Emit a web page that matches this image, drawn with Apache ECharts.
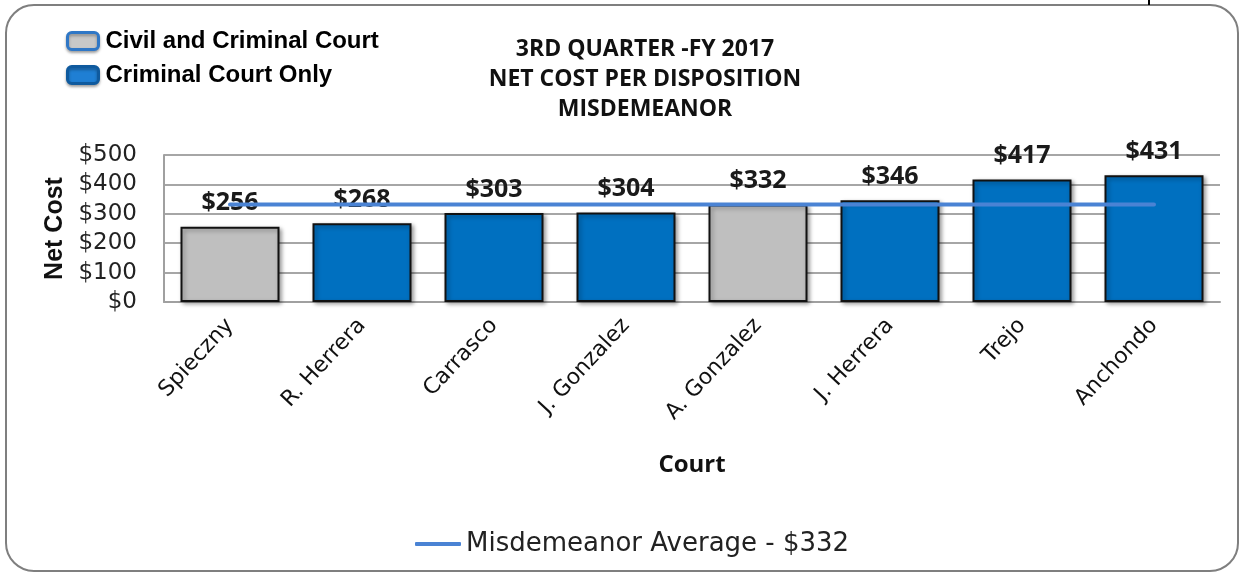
<!DOCTYPE html>
<html>
<head>
<meta charset="utf-8">
<title>Net Cost per Disposition - Misdemeanor</title>
<script src="https://cdn.jsdelivr.net/npm/echarts@6/dist/echarts.min.js"></script>
<style>
  html, body { margin: 0; padding: 0; background: #fff; }
  #chartmain { width: 1243px; height: 575px; }
</style>
</head>
<body>
<div id="chartmain"></div>
<script>
    // data
    var courts = ['Spieczny', 'R. Herrera', 'Carrasco', 'J. Gonzalez', 'A. Gonzalez', 'J. Herrera', 'Trejo', 'Anchondo'];
    var netCost = [256, 268, 303, 304, 332, 346, 417, 431];
    // true = civil and criminal court, false = criminal court only
    var civilAndCriminal = [true, false, false, false, true, false, false, false];
    var average = 332;
    var yTicks = [0, 100, 200, 300, 400, 500];

    var nameCivil = 'Civil and Criminal Court';
    var nameCrim = 'Criminal Court Only';
    var nameAvg = 'Misdemeanor Average - $' + average;

    var civilData = netCost.map(function (v, i) { return civilAndCriminal[i] ? v : '-'; });
    var crimData = netCost.map(function (v, i) { return civilAndCriminal[i] ? '-' : v; });
    var avgData = courts.map(function () { return average; });

    var myChart = echarts.init(document.getElementById('chartmain'));

    var barLabel = {
        show: true,
        position: 'top',
        distance: 11,
        formatter: '${c}',
        fontFamily: 'Open Sans',
        fontWeight: 'bold',
        fontSize: 25,
        color: '#1a1a1a'
    };

    var barShadow = {
        borderColor: '#111',
        borderWidth: 2,
        shadowColor: 'rgba(0,0,0,0.35)',
        shadowBlur: 4,
        shadowOffsetX: 2,
        shadowOffsetY: 2
    };

    var option = {
        backgroundColor: '#fff',
        animation: false,
        title: {
            text: '3RD QUARTER -FY 2017\nNET COST PER DISPOSITION\nMISDEMEANOR',
            left: 640,
            top: 29,
            textAlign: 'center',
            textStyle: {
                fontFamily: 'Open Sans',
                fontWeight: 'bold',
                fontSize: 23,
                lineHeight: 30,
                color: '#111'
            }
        },
        legend: [
            {
                orient: 'vertical',
                left: 61,
                top: 24,
                itemGap: 10,
                itemWidth: 31,
                itemHeight: 17,
                icon: 'roundRect',
                textStyle: {
                    fontFamily: 'Liberation Sans',
                    fontWeight: 'bold',
                    fontSize: 24,
                    color: '#000',
                    padding: [0, 0, 0, 2]
                },
                data: [
                    { name: nameCivil, itemStyle: { color: '#c8c8c8', borderColor: '#2f77c6', borderWidth: 3, shadowColor: 'rgba(0,0,0,0.3)', shadowBlur: 3, shadowOffsetY: 2 } },
                    { name: nameCrim, itemStyle: { color: '#1f7fd4', borderColor: '#0f5a9e', borderWidth: 3, shadowColor: 'rgba(0,0,0,0.3)', shadowBlur: 3, shadowOffsetY: 2 } }
                ]
            },
            {
                left: 410,
                top: 526,
                itemWidth: 46,
                itemHeight: 4,
                icon: 'roundRect',
                textStyle: {
                    fontFamily: 'DejaVu Sans',
                    fontSize: 26,
                    color: '#222'
                },
                data: [nameAvg]
            }
        ],
        grid: {
            left: 164,
            right: 23,
            top: 155,
            bottom: 273
        },
        xAxis: {
            type: 'category',
            data: courts,
            name: 'Court',
            nameLocation: 'middle',
            nameGap: 151,
            nameTextStyle: {
                fontFamily: 'Open Sans',
                fontWeight: 'bold',
                fontSize: 24,
                color: '#111'
            },
            axisLine: { lineStyle: { color: '#a0a0a0', width: 2 } },
            axisTick: { show: false },
            axisLabel: {
                rotate: 47,
                margin: 20,
                fontFamily: 'DejaVu Sans',
                fontSize: 22,
                color: '#111'
            }
        },
        yAxis: {
            type: 'value',
            min: yTicks[0],
            max: yTicks[yTicks.length - 1],
            interval: 100,
            name: 'Net Cost',
            nameLocation: 'middle',
            nameGap: 94,
            nameRotate: 90,
            nameTextStyle: {
                fontFamily: 'Liberation Sans',
                fontWeight: 'bold',
                fontSize: 25,
                color: '#111'
            },
            axisLine: { show: true, lineStyle: { color: '#a0a0a0', width: 2 } },
            axisTick: { show: false },
            axisLabel: {
                margin: 27,
                formatter: '${value}',
                fontFamily: 'DejaVu Sans',
                fontSize: 23,
                color: '#222'
            },
            splitLine: { lineStyle: { color: '#a6a6a6', width: 2 } }
        },
        series: [
            {
                name: nameCivil,
                type: 'bar',
                stack: 'court',
                barWidth: '75%',
                data: civilData,
                itemStyle: Object.assign({ color: '#bfbfbf' }, barShadow),
                label: barLabel
            },
            {
                name: nameCrim,
                type: 'bar',
                stack: 'court',
                barWidth: '75%',
                data: crimData,
                itemStyle: Object.assign({ color: '#0070c0' }, barShadow),
                label: barLabel
            },
            {
                name: nameAvg,
                type: 'line',
                data: avgData,
                symbol: 'none',
                lineStyle: { color: '#4a83d4', width: 4, cap: 'round' },
                itemStyle: { color: '#4a83d4' },
                z: 5
            }
        ],
        graphic: [
            {
                type: 'rect',
                shape: { x: 6, y: 5, width: 1232, height: 566, r: 28 },
                style: { fill: 'none', stroke: '#7f7f7f', lineWidth: 2 },
                silent: true
            },
            {
                type: 'line',
                shape: { x1: 1149, y1: 0, x2: 1149, y2: 5 },
                style: { stroke: '#000', lineWidth: 2 },
                silent: true
            }
        ]
    };

    myChart.setOption(option);
</script>
</body>
</html>
